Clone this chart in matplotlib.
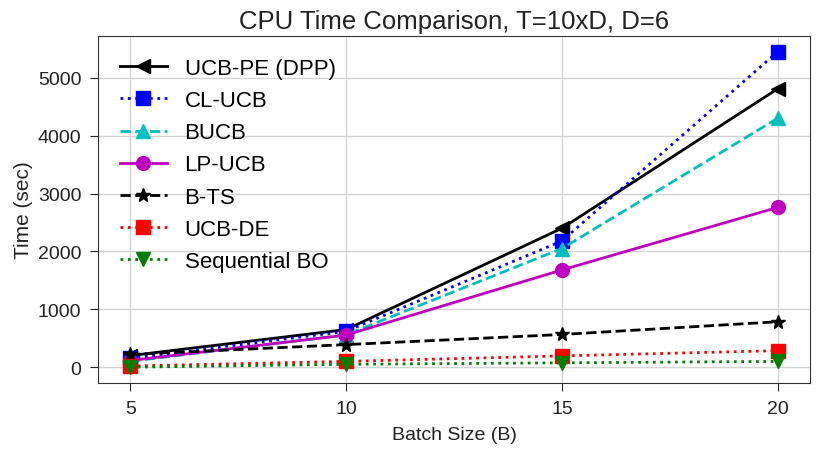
import numpy as np
import matplotlib.pyplot as plt

plt.rcParams["font.family"] = ["Liberation Sans", "DejaVu Sans"]

# Data
batch_sizes = [5, 10, 15, 20]

ucb_pe = [200, 650, 2400, 4810]
cl_ucb = [150, 620, 2180, 5450]
bucb = [100, 560, 2050, 4300]
lp_ucb = [115, 555, 1680, 2760]
b_ts = [220, 390, 565, 785]
ucb_de = [20, 100, 195, 285]
seq_bo = [0, 50, 75, 100]

series = [
    ("UCB-PE (DPP)", ucb_pe, "k", "-", "<"),
    ("CL-UCB", cl_ucb, "b", ":", "s"),
    ("BUCB", bucb, "c", "--", "^"),
    ("LP-UCB", lp_ucb, "m", "-", "o"),
    ("B-TS", b_ts, "k", "--", "*"),
    ("UCB-DE", ucb_de, "r", ":", "s"),
    ("Sequential BO", seq_bo, "g", ":", "v"),
]

fig, ax = plt.subplots(figsize=(8.3, 4.56), dpi=100)

for label, values, color, ls, marker in series:
    ax.plot(batch_sizes, values, color=color, linestyle=ls, marker=marker,
            markersize=10, linewidth=2, label=label)

ax.set_xticks(batch_sizes)
ax.set_yticks([0, 1000, 2000, 3000, 4000, 5000])
ax.grid(True, color="#d3d3d3", linewidth=1)
ax.set_axisbelow(True)
for spine in ax.spines.values():
    spine.set_color("#333333")
ax.tick_params(labelsize=14, colors="#222222", direction="out", length=6,
               pad=6)

ax.set_title("CPU Time Comparison, T=10xD, D=6", fontsize=18.5,
             color="#222222", pad=6)
ax.set_xlabel("Batch Size (B)", fontsize=14, color="#222222", labelpad=7)
ax.set_ylabel("Time (sec)", fontsize=15, color="#222222", labelpad=3)

ax.legend(loc="upper left", fontsize=16, frameon=False, handlelength=2.1,
          labelspacing=0.5, borderaxespad=0.6)

plt.subplots_adjust(left=0.118, right=0.976, top=0.919, bottom=0.158)
plt.savefig("out.png", dpi=100)
